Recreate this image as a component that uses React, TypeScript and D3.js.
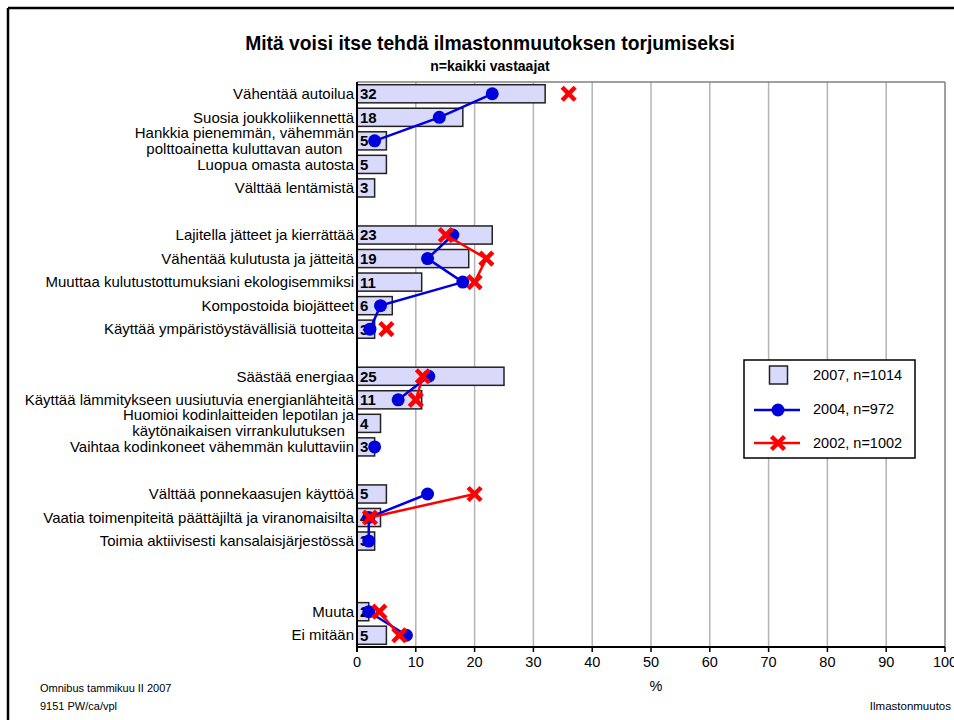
import React from "react";
import * as d3 from "d3";

const categories: string[][] = [
  ["Vähentää autoilua"],
  ["Suosia joukkoliikennettä"],
  ["Hankkia pienemmän, vähemmän", "polttoainetta kuluttavan auton"],
  ["Luopua omasta autosta"],
  ["Välttää lentämistä"],
  [],
  ["Lajitella jätteet ja kierrättää"],
  ["Vähentää kulutusta ja jätteitä"],
  ["Muuttaa kulutustottumuksiani ekologisemmiksi"],
  ["Kompostoida biojätteet"],
  ["Käyttää ympäristöystävällisiä tuotteita"],
  [],
  ["Säästää energiaa"],
  ["Käyttää lämmitykseen uusiutuvia energianlähteitä"],
  ["Huomioi kodinlaitteiden lepotilan ja", "käytönaikaisen virrankulutuksen"],
  ["Vaihtaa kodinkoneet vähemmän kuluttaviin"],
  [],
  ["Välttää ponnekaasujen käyttöä"],
  ["Vaatia toimenpiteitä päättäjiltä ja viranomaisilta"],
  ["Toimia aktiivisesti kansalaisjärjestössä"],
  [],
  [],
  ["Muuta"],
  ["Ei mitään"],
];

const values2007: (number | null)[] = [32, 18, 5, 5, 3, null, 23, 19, 11, 6, 3, null, 25, 11, 4, 3, null, 5, 4, 3, null, null, 2, 5];
const values2004: (number | null)[] = [23, 14, 3, null, null, null, 16.3, 12, 18, 4, 2.2, null, 12.2, 7, null, 3, null, 12, 2, 2, null, null, 2, 8.4];
const values2002: (number | null)[] = [36, null, null, null, null, null, 15.1, 22, 20, null, 5, null, 11.2, 10, null, null, null, 20, 2.2, null, null, null, 3.8, 7.2];

const xTicks = [0, 10, 20, 30, 40, 50, 60, 70, 80, 90, 100];
const legendLabels = ["2007, n=1014", "2004, n=972", "2002, n=1002"];

const FONT = "'Liberation Sans', Arial, sans-serif";
const LABEL_SIZE = 15;

const W = 954;
const H = 720;
const plot = { left: 357, right: 945, top: 82, bottom: 647 };

let ctx: CanvasRenderingContext2D | null = null;
function measure(t: string, size: number) {
  if (!ctx) ctx = document.createElement("canvas").getContext("2d");
  if (!ctx) return t.length * size * 0.5;
  ctx.font = `${size}px 'Liberation Sans'`;
  return ctx.measureText(t).width;
}

function XMark({ x, y }: { x: number; y: number }) {
  const s = 6.5;
  return (
    <g>
      <line x1={x - s} y1={y - s} x2={x + s} y2={y + s} stroke="#ff0000" strokeWidth={4.5} />
      <line x1={x - s} y1={y + s} x2={x + s} y2={y - s} stroke="#ff0000" strokeWidth={4.5} />
    </g>
  );
}

export default function App() {
  const idx = categories.map((_, i) => String(i));
  const x = d3.scaleLinear().domain([0, 100]).range([plot.left, plot.right]);
  const y = d3.scaleBand().domain(idx).range([plot.top, plot.bottom]).paddingInner(0.23).paddingOuter(0.115);
  const cy = (i: number) => (y(String(i)) as number) + y.bandwidth() / 2;

  const line = d3
    .line<number | null>()
    .defined((d) => d !== null)
    .x((d) => x(d as number))
    .y((_, i) => cy(i));

  const labelRight = 354;

  return (
    <svg width={W} height={H} style={{ position: "absolute", left: 0, top: 0, background: "#fff" }} fontFamily={FONT}>
      <rect x={0} y={0} width={W} height={H} fill="#fff" />
      {/* frame */}
      <line x1={8} y1={8} x2={W} y2={8} stroke="#000" strokeWidth={2.5} />
      <line x1={8} y1={8} x2={8} y2={H} stroke="#000" strokeWidth={2.5} />

      <text x={490} y={50} textAnchor="middle" fontWeight="bold" fontSize={19.3}>
        Mitä voisi itse tehdä ilmastonmuutoksen torjumiseksi
      </text>
      <text x={490} y={71} textAnchor="middle" fontWeight="bold" fontSize={14}>
        n=kaikki vastaajat
      </text>

      {/* grid */}
      {xTicks.slice(1).map((t) => (
        <line key={t} x1={x(t)} x2={x(t)} y1={plot.top} y2={plot.bottom} stroke={t === 100 ? "#808080" : "#b4b4b4"} strokeWidth={1.5} />
      ))}
      <line x1={plot.left} x2={plot.right} y1={plot.top} y2={plot.top} stroke="#808080" strokeWidth={1.5} />

      {/* category labels */}
      {categories.map((lines, i) => {
        if (lines.length === 0) return null;
        if (lines.length === 1)
          return (
            <text key={i} x={labelRight} y={cy(i)} dy="0.35em" textAnchor="end" fontSize={LABEL_SIZE}>
              {lines[0]}
            </text>
          );
        const maxW = Math.max(...lines.map((l) => measure(l, LABEL_SIZE)));
        const cx = labelRight - maxW / 2;
        const gap = 16;
        return (
          <text key={i} textAnchor="middle" fontSize={LABEL_SIZE}>
            {lines.map((l, j) => (
              <tspan key={j} x={cx} y={cy(i) + 5 + (j - (lines.length - 1) / 2) * gap}>
                {l}
              </tspan>
            ))}
          </text>
        );
      })}

      {/* bars */}
      {values2007.map((v, i) =>
        v === null ? null : (
          <g key={i}>
            <rect x={x(0)} y={y(String(i))} width={x(v) - x(0)} height={y.bandwidth()} fill="#d9d9fb" stroke="#222" strokeWidth={1.5} />
            <text x={x(0) + 3} y={cy(i)} dy="0.36em" fontWeight="bold" fontSize={15}>
              {v}
            </text>
          </g>
        )
      )}

      {/* axes */}
      <line x1={plot.left} x2={plot.right} y1={plot.bottom} y2={plot.bottom} stroke="#000" strokeWidth={2} />
      <line x1={plot.left} x2={plot.left} y1={plot.top} y2={plot.bottom + 5} stroke="#000" strokeWidth={2} />
      {xTicks.map((t) => (
        <g key={t}>
          <line x1={x(t)} x2={x(t)} y1={plot.bottom} y2={plot.bottom + 5} stroke="#000" strokeWidth={1.5} />
          <text x={x(t)} y={plot.bottom + 20} textAnchor="middle" fontSize={14.5}>
            {t}
          </text>
        </g>
      ))}
      <text x={656} y={691} textAnchor="middle" fontSize={14.5}>
        %
      </text>

      {/* 2004 */}
      <path d={line(values2004) || ""} fill="none" stroke="#0000dd" strokeWidth={2.5} />
      {values2004.map((v, i) => (v === null ? null : <circle key={i} cx={x(v)} cy={cy(i)} r={6.5} fill="#0000dd" />))}

      {/* 2002 */}
      <path d={line(values2002) || ""} fill="none" stroke="#ff0000" strokeWidth={2.5} />
      {values2002.map((v, i) => (v === null ? null : <XMark key={i} x={x(v)} y={cy(i)} />))}

      {/* legend */}
      <g>
        <rect x={744} y={360} width={171} height={98} fill="#fff" stroke="#000" strokeWidth={1.5} />
        <rect x={769.5} y={366} width={18} height={18} fill="#d9d9fb" stroke="#222" strokeWidth={1.5} />
        <line x1={754} x2={800} y1={410} y2={410} stroke="#0000dd" strokeWidth={2.5} />
        <circle cx={778} cy={410} r={6.5} fill="#0000dd" />
        <line x1={754} x2={800} y1={443} y2={443} stroke="#ff0000" strokeWidth={2.5} />
        <XMark x={778} y={443} />
        {legendLabels.map((l, i) => (
          <text key={l} x={813} y={375 + i * 34} dy="0.35em" fontSize={14.5}>
            {l}
          </text>
        ))}
      </g>

      {/* footer */}
      <text x={40} y={692} fontSize={11}>
        Omnibus tammikuu II 2007
      </text>
      <text x={40} y={710} fontSize={11}>
        9151 PW/ca/vpl
      </text>
      <text x={951} y={710} textAnchor="end" fontSize={11.5}>
        Ilmastonmuutos
      </text>
    </svg>
  );
}
